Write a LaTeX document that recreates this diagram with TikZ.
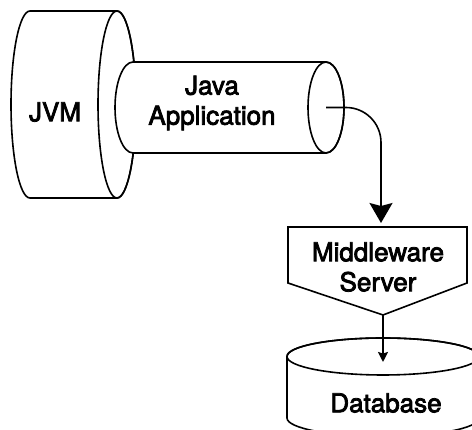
\documentclass[tikz,border=0pt]{standalone}
\usepackage{fontspec}
\setmainfont{TeX Gyre Heros}
\newfontfamily\hvm{TeX Gyre Heros}[BoldFont={TeX Gyre Heros},BoldFeatures={FakeBold=3}]
\usetikzlibrary{arrows.meta}
\begin{document}
\begin{tikzpicture}[x=1pt,y=1pt,line width=1.6pt,
  shapeline/.style={draw=black,fill=white,line width=1.6pt},
  lbl/.style={font=\hvm\bfseries\fontsize{26}{30}\selectfont,align=center,inner sep=0pt},
  bigarrow/.style={-{Stealth[length=20pt,width=23pt,inset=3pt]},line width=1.6pt},
  smallarrow/.style={-{Stealth[length=10pt,width=10pt,inset=1.5pt]},line width=1.6pt}]
\useasboundingbox (0,0) rectangle (472,430);
\clip (0,0) rectangle (472,430);
% JVM cylinder
\path[shapeline] (117,419) -- (30,419) arc[start angle=90,end angle=270,x radius=19,y radius=93.5]
  -- (117,232) arc[start angle=-90,end angle=90,x radius=19,y radius=93.5] -- cycle;
\draw (117,325.5) ellipse[x radius=19,y radius=93.5];
% Java Application cylinder
\path[shapeline] (326,368) -- (133,368) arc[start angle=90,end angle=270,x radius=18,y radius=45.5]
  -- (326,277) arc[start angle=-90,end angle=90,x radius=18,y radius=45.5] -- cycle;
\draw (326,322.5) ellipse[x radius=18,y radius=45.5];
% Middleware server (off-page shape)
\path[shapeline] (288,203) -- (467,203) -- (467,147) -- (383,115) -- (288,147) -- cycle;
% Database cylinder
\path[shapeline] (287,73.5) -- (287,12) arc[start angle=180,end angle=360,x radius=96,y radius=18.5]
  -- (479,73.5) arc[start angle=0,end angle=180,x radius=96,y radius=18.5] -- cycle;
\draw (383,73.5) ellipse[x radius=96,y radius=18.5];
% labels
\node[lbl] (jvm) at (55,318) {JVM};
\node[lbl] (app) at (212,327) {Java\\Application};
\node[lbl] (mw) at (378,163) {Middleware\\Server};
\node[lbl] (db) at (386,27) {Database};
% connector points
\coordinate (appEnd) at (326,322.5);
\coordinate (mwTop) at (381,207);
\coordinate (mwTip) at (383,115);
\coordinate (dbTop) at (383,68);
\draw[bigarrow,rounded corners=35pt] (appEnd) -| (mwTop);
\draw[smallarrow] (mwTip) -- (dbTop);
\end{tikzpicture}
\end{document}
